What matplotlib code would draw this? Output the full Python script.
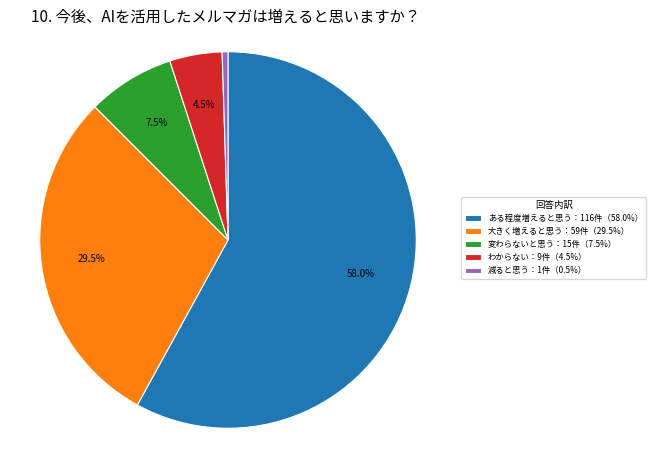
import matplotlib
matplotlib.use("Agg")
import matplotlib.pyplot as plt

plt.rcParams['font.family'] = ['Noto Sans CJK JP', 'DejaVu Sans']

labels = ["ある程度増えると思う", "大きく増えると思う", "変わらないと思う", "わからない", "減ると思う"]
counts = [116, 59, 15, 9, 1]
colors = ["#1f77b4", "#ff7f0e", "#2ca02c", "#d62728", "#9467bd"]

total = sum(counts)
leg_labels = []
for l, c in zip(labels, counts):
    leg_labels.append("%s：%d件（%.1f%%）" % (l, c, c / total * 100))

fig = plt.figure(figsize=(6.5, 4.55), dpi=100)
ax = fig.add_axes([0.0554, 0.0505, 0.5908, 0.844])

wedges, texts, autotexts = ax.pie(counts, colors=colors, startangle=90, counterclock=False,
                                  autopct=lambda p: "%.1f%%" % p if p >= 1 else "",
                                  pctdistance=0.73,
                                  wedgeprops=dict(edgecolor="white", linewidth=0.8),
                                  textprops=dict(fontsize=7))
ax.set_xlim(-1.02, 1.02)
ax.set_ylim(-1.02, 1.02)
ax.set_aspect("equal")

fig.text(226 / 650, 1 - 17 / 455, "10. 今後、AIを活用したメルマガは増えると思いますか？",
         ha="center", va="center", fontsize=11)

leg = fig.legend(wedges, leg_labels, title="回答内訳", loc="center left",
                 bbox_to_anchor=(457 / 650, 1 - 238 / 455), fontsize=6, title_fontsize=6.8,
                 frameon=True, labelspacing=0.5)

fig.savefig("out.png", dpi=100)
